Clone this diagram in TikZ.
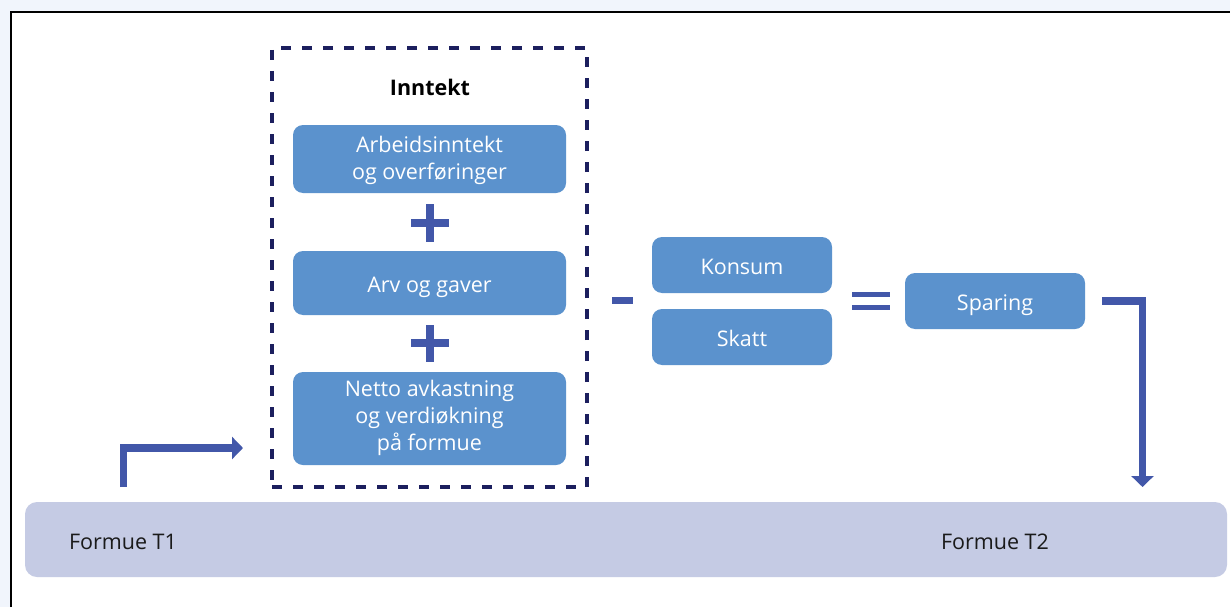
\documentclass[tikz,border=0pt]{standalone}
\usepackage{fontspec}
\setmainfont{Open Sans}
\usetikzlibrary{arrows.meta,positioning}
\definecolor{pageBg}{HTML}{F1F5FC}
\definecolor{boxBlue}{HTML}{5B92CD}
\definecolor{signBlue}{HTML}{4257A9}
\definecolor{frameNavy}{HTML}{1C1F5E}
\definecolor{barLilac}{HTML}{C5CBE4}
\definecolor{textDark}{HTML}{1A1A1A}

\tikzset{
  postbox/.style={fill=boxBlue,rounded corners=10pt,text=white,align=center,inner sep=0pt,
    font=\fontsize{21.5}{27}\selectfont},
  oneline/.style={text height=18pt,text depth=0pt},
  sign/.style={signBlue,line width=8pt},
  flow/.style={signBlue,line width=7.5pt,-{Triangle[width=22pt,length=11pt]}},
  barlabel/.style={text=textDark,font=\fontsize{21.5}{27}\selectfont,oneline},
}

\begin{document}
\begin{tikzpicture}[x=1pt,y=-1pt]
  \useasboundingbox (0,0) rectangle (1230,607);
  \fill[pageBg] (0,0) rectangle (1230,607);
  \fill[white] (11,12) rectangle (1230,607);
  \draw[black,line width=2pt] (11,607) -- (11,12) -- (1230,12);

  % inntekt
  \node[draw=frameNavy,line width=3.5pt,dash pattern=on 10pt off 11pt,minimum width=315pt,minimum height=439pt]
    (inntektFrame) at (429.5,267.5) {};
  \node[font=\fontsize{21.5}{27}\selectfont\bfseries] (inntektTitle) at (430,87) {Inntekt};
  \node[postbox,minimum width=273pt,minimum height=68pt] (arbeid) at (429.5,159)
    {\strut Arbeidsinntekt\\og overføringer};
  \node[postbox,oneline,minimum width=273pt,minimum height=64pt] (arv) at (429.5,283) {Arv og gaver};
  \node[postbox,minimum width=273pt,minimum height=93pt] (netto) at (429.5,418.5)
    {\strut Netto avkastning\\og verdiøkning\\på formue\strut};
  \draw[sign] (411,223) -- (449,223) (430,204) -- (430,242);
  \draw[sign] (411,343) -- (449,343) (430,325) -- (430,362);

  % utgifter og sparing
  \draw[signBlue,line width=7pt] (612,300.5) -- (633,300.5);
  \node[postbox,oneline,minimum width=180pt,minimum height=56pt] (konsum) at (742,265) {Konsum};
  \node[postbox,oneline,minimum width=180pt,minimum height=56pt] (skatt) at (742,337) {Skatt};
  \draw[signBlue,line width=5pt] (852,294.5) -- (890,294.5) (852,307.5) -- (890,307.5);
  \node[postbox,oneline,minimum width=180pt,minimum height=56pt] (sparing) at (995,301) {Sparing};

  % formue
  \node[fill=barLilac,rounded corners=12pt,minimum width=1202pt,minimum height=75pt]
    (formue) at (626,539.5) {};
  \node[barlabel] (formueT1) at (123,540) {Formue T1};
  \node[barlabel] (formueT2) at (995,540) {Formue T2};

  \coordinate (t1Out) at (123.5,487);
  \coordinate (inntektIn) at (243,448);
  \coordinate (t2In) at (1142.5,487);
  \draw[flow] (t1Out) |- (inntektIn);
  \draw[flow] ([xshift=17pt]sparing.east) -| (t2In);
\end{tikzpicture}
\end{document}
